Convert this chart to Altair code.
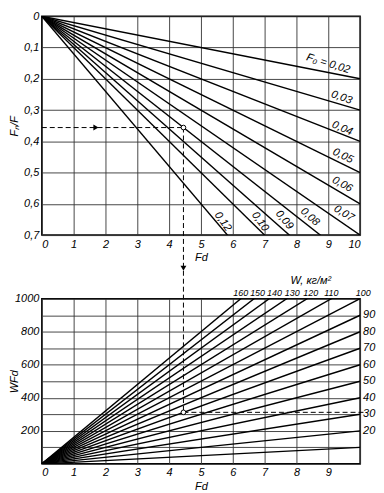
import altair as alt
import pandas as pd

# ---------------- data ----------------
fd_range = [0, 10]
f0_values = [0.02, 0.03, 0.04, 0.05, 0.06, 0.07, 0.08, 0.09, 0.10, 0.12]
w_values = [10, 20, 30, 40, 50, 60, 70, 80, 90, 100, 110, 120, 130, 140, 150, 160]

f0_labels = ["F₀ = 0,02", "0,03", "0,04", "0,05", "0,06", "0,07", "0,08", "0,09", "0,10", "0,12"]
f0_label_fd = [9.0, 9.42, 9.44, 9.46, 9.44, 9.49, 8.42, 7.62, 6.86, 5.69]
f0_label_fnf = [0.152, 0.26, 0.359, 0.447, 0.538, 0.631, 0.642, 0.652, 0.657, 0.657]
f0_label_angle = [17, 20, 23, 26, 29, 31, 42, 50, 55, 55]

w_top_labels = [160, 150, 140, 130, 120, 110, 100]
w_top_label_fd = [6.25, 6.78, 7.31, 7.87, 8.45, 9.10, 10.1]
w_right_labels = [90, 80, 70, 60, 50, 40, 30, 20]
w_title = "W, кг/м²"
w_title_fd = 8.45

top_x_ticks = list(range(0, 11))
top_y_ticks = [0, 0.1, 0.2, 0.3, 0.4, 0.5, 0.6, 0.7]
bot_x_ticks = list(range(0, 11))
bot_y_ticks = [0, 100, 200, 300, 400, 500, 600, 700, 800, 900, 1000]

guide_fd = 4.45
guide_fnf = 0.356
guide_wfd = 312
arrow_fd = 1.7

# ---------------- layout ----------------
W = 320
H_TOP = 220
H_BOT = 166
GAP = 64
FONT = "Liberation Sans"

top_lines = pd.DataFrame([{"F0": f, "Fd": x, "FnF": f * x} for f in f0_values for x in fd_range])
bot_lines = pd.DataFrame([{"W": w, "Fd": x, "WFd": w * x} for w in w_values for x in fd_range])
top_lab = pd.DataFrame({"label": f0_labels, "Fd": f0_label_fd, "FnF": f0_label_fnf, "angle": f0_label_angle})

xs = alt.Scale(domain=[0, 10], nice=False, zero=False)
ys_top = alt.Scale(domain=[0, 0.7], reverse=True, nice=False)
ys_bot = alt.Scale(domain=[0, 1000], nice=False)

ax_x_top = alt.Axis(values=top_x_ticks, title="Fd", labelPadding=3, titlePadding=3)
ax_y_top = alt.Axis(values=top_y_ticks, title="Fₙ/F", titleX=-22,
                    labelExpr="datum.value == 0 ? '0' : replace(format(datum.value, '.1f'), '.', ',')")
ax_x_bot = alt.Axis(values=bot_x_ticks, title="Fd", labelPadding=3, titlePadding=3,
                    labelExpr="datum.value == 10 ? '' : datum.label")
ax_y_bot = alt.Axis(values=bot_y_ticks, title="WFd", titleX=-22,
                    labelExpr="(datum.value % 200 == 0 && datum.value > 0) ? format(datum.value, 'd') : ''")


def xt(f):
    return alt.X(f"{f}:Q", scale=xs, axis=ax_x_top)


def yt(f):
    return alt.Y(f"{f}:Q", scale=ys_top, axis=ax_y_top)


def xb(f):
    return alt.X(f"{f}:Q", scale=xs, axis=ax_x_bot)


def yb(f):
    return alt.Y(f"{f}:Q", scale=ys_bot, axis=ax_y_bot)


txt = dict(font=FONT, fontStyle="italic", fontSize=11, color="black")
dash = [5, 3]

# ---------------- top panel ----------------
t_lines = alt.Chart(top_lines).mark_line(clip=True, color="black", strokeWidth=1.4).encode(
    x=xt("Fd"), y=yt("FnF"), detail="F0:N")

t_labels = alt.Chart(top_lab).mark_text(**txt).encode(
    x=xt("Fd"), y=yt("FnF"), text="label:N", angle=alt.Angle("angle:Q", scale=None))

gdf_top = pd.DataFrame({"Fd": [0.0], "Fd2": [guide_fd], "FnF": [guide_fnf], "G": [guide_fd]})
bottom_circle_px = H_TOP + GAP + H_BOT * (1 - guide_wfd / 1000)

t_hguide = alt.Chart(gdf_top).mark_rule(color="black", strokeWidth=1, strokeDash=dash).encode(
    x=xt("Fd"), x2="Fd2:Q", y=yt("FnF"))
t_vguide = alt.Chart(gdf_top).mark_rule(color="black", strokeWidth=1, strokeDash=dash).encode(
    x=xt("G"), y=yt("FnF"), y2=alt.value(bottom_circle_px))
t_circle = alt.Chart(gdf_top).mark_point(shape="circle", filled=True, fill="white", stroke="black",
                                         strokeWidth=1, size=22, opacity=1).encode(
    x=xt("G"), y=yt("FnF"))
arrow_r = alt.Chart(pd.DataFrame({"Fd": [arrow_fd], "FnF": [guide_fnf]})).mark_point(
    shape="triangle-right", filled=True, color="black", size=35, opacity=1).encode(
    x=xt("Fd"), y=yt("FnF"))
arrow_d = alt.Chart(pd.DataFrame({"Fd": [guide_fd]})).mark_point(
    shape="triangle-down", filled=True, color="black", size=35, opacity=1).encode(
    x=xt("Fd"), y=alt.value(H_TOP + GAP * 0.52))

top = alt.layer(t_lines, t_hguide, t_vguide, t_labels, t_circle, arrow_r, arrow_d).properties(
    width=W, height=H_TOP)

# ---------------- bottom panel ----------------
b_lines = alt.Chart(bot_lines).mark_line(clip=True, color="black", strokeWidth=1.4).encode(
    x=xb("Fd"), y=yb("WFd"), detail="W:N")

b_top_lab = alt.Chart(pd.DataFrame({"W": w_top_labels, "Fd": w_top_label_fd})).mark_text(
    baseline="bottom", dy=-1, font=FONT, fontStyle="italic", fontSize=9, color="black").encode(
    x=xb("Fd"), y=alt.value(0), text="W:N")

b_right_lab = alt.Chart(pd.DataFrame({"W": w_right_labels})).transform_calculate(
    WFd="datum.W * 10").mark_text(align="left", baseline="middle", dx=3, **txt).encode(
    x=alt.value(W), y=yb("WFd"), text="W:N")

b_title = alt.Chart(pd.DataFrame({"Fd": [w_title_fd], "label": [w_title]})).mark_text(
    baseline="bottom", **txt).encode(x=xb("Fd"), y=alt.value(-13), text="label:N")

gdf_bot = pd.DataFrame({"Fd": [guide_fd], "Fd2": [10.15], "WFd": [guide_wfd]})
b_hguide = alt.Chart(gdf_bot).mark_rule(color="black", strokeWidth=1, strokeDash=dash).encode(
    x=xb("Fd"), x2="Fd2:Q", y=yb("WFd"))
b_circle = alt.Chart(gdf_bot).mark_point(shape="circle", filled=True, fill="white", stroke="black",
                                         strokeWidth=1, size=22, opacity=1).encode(
    x=xb("Fd"), y=yb("WFd"))

bottom = alt.layer(b_lines, b_hguide, b_top_lab, b_right_lab, b_title, b_circle).properties(
    width=W, height=H_BOT)

chart = alt.vconcat(top, bottom, spacing=GAP, bounds="flush").properties(
    padding={"left": 0, "top": 0, "right": 0, "bottom": 0}
).configure_view(stroke="black", strokeWidth=1.5).configure_axis(
    grid=True, gridColor="#333333", gridWidth=0.9, gridOpacity=1,
    ticks=False, domain=False,
    labelFont=FONT, labelFontStyle="italic", labelFontSize=11, labelColor="black",
    titleFont=FONT, titleFontStyle="italic", titleFontSize=11, titleFontWeight="normal",
    titleColor="black", labelPadding=3,
).configure_axisY(labelFlush=False)

chart.save("out.html", embed_options={"renderer": "svg", "actions": False})
